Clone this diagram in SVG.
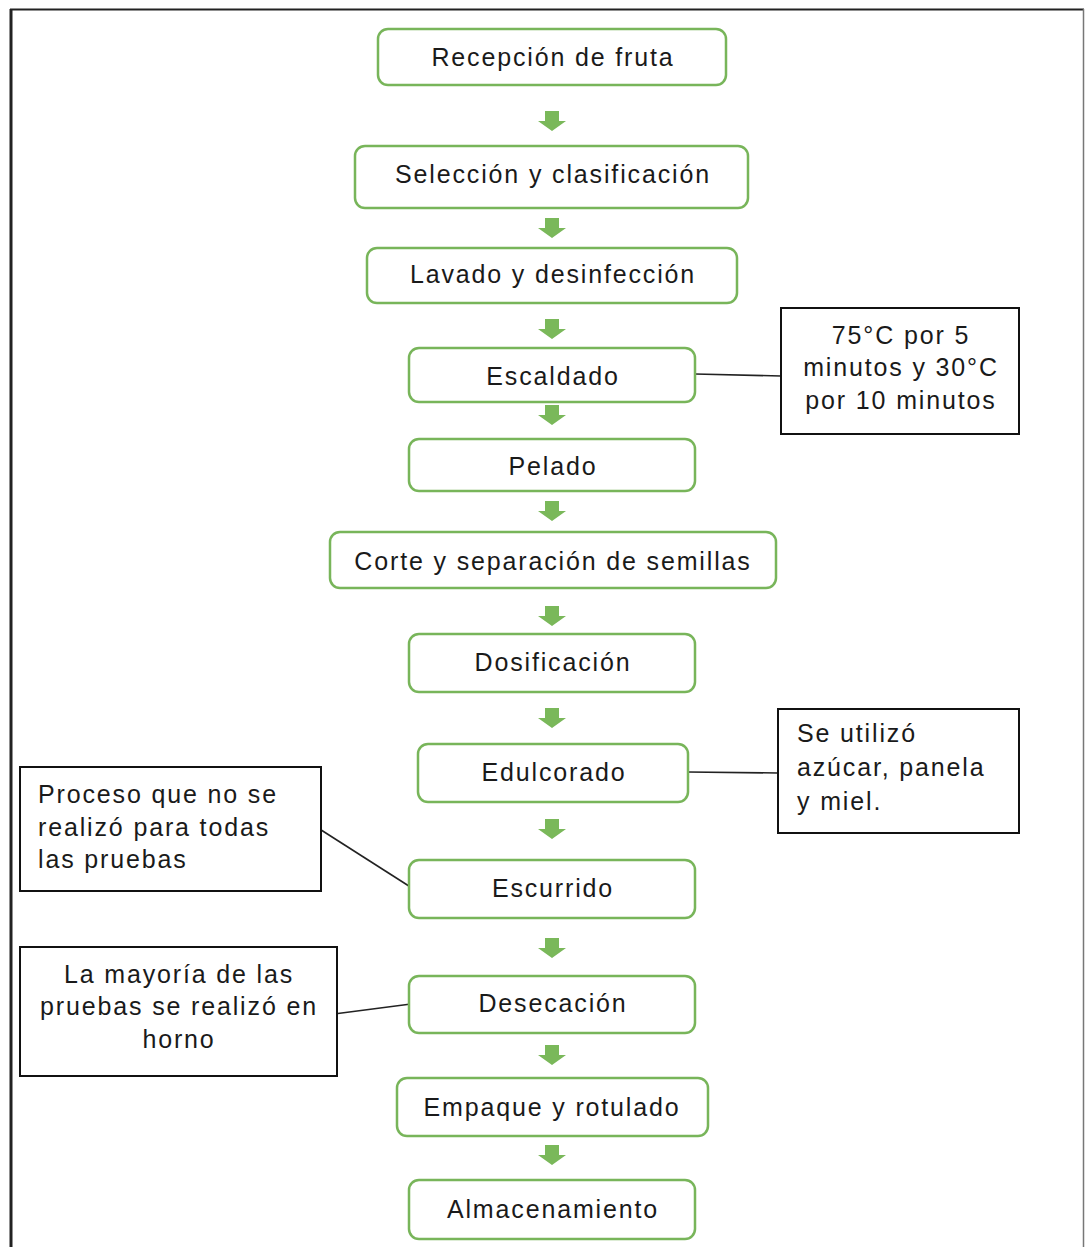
<svg xmlns="http://www.w3.org/2000/svg" width="1086" height="1247" viewBox="0 0 1086 1247">
<defs>
<style>
.step rect{fill:#fff;stroke:#78b55a;stroke-width:2.5}
.note rect{fill:#fff;stroke:#111;stroke-width:2}
text{font-family:"Liberation Sans",Arial,sans-serif;font-size:25px;letter-spacing:1.85px;fill:#1a1a1a}
.c{text-anchor:middle}
.conn line{stroke:#222;stroke-width:1.6}
.arr{fill:#7ab85a}
</style>
<path id="ar" d="M-7,0 H7 V10 H14 L0,20 L-14,10 H-7 Z"/>
</defs>
<rect width="1086" height="1247" fill="#fff"/>
<g id="frame">
<line x1="11" y1="1247" x2="11" y2="9" stroke="#222" stroke-width="3"/>
<line x1="10" y1="9.5" x2="1084" y2="9.5" stroke="#222" stroke-width="2"/>
<line x1="1083.5" y1="9" x2="1083.5" y2="1247" stroke="#777" stroke-width="1.5"/>
</g>
<g id="connectors" class="conn">
<line x1="695" y1="374" x2="781" y2="376"/>
<line x1="688" y1="772" x2="778" y2="773"/>
<line x1="318" y1="828" x2="412" y2="888"/>
<line x1="334" y1="1014" x2="411" y2="1004"/>
<g class="arr">
<use href="#ar" x="552" y="111"/>
<use href="#ar" x="552" y="218"/>
<use href="#ar" x="552" y="319"/>
<use href="#ar" x="552" y="405"/>
<use href="#ar" x="552" y="501"/>
<use href="#ar" x="552" y="606"/>
<use href="#ar" x="552" y="708"/>
<use href="#ar" x="552" y="819"/>
<use href="#ar" x="552" y="938"/>
<use href="#ar" x="552" y="1045"/>
<use href="#ar" x="552" y="1145"/>
</g>
</g>
<g id="n1" class="step"><rect x="378" y="29" width="348" height="56" rx="10"/><text class="c" x="553" y="66">Recepción de fruta</text></g>
<g id="n2" class="step"><rect x="355" y="146" width="393" height="62" rx="10"/><text class="c" x="553" y="183">Selección y clasificación</text></g>
<g id="n3" class="step"><rect x="367" y="248" width="370" height="55" rx="10"/><text class="c" x="553" y="283">Lavado y desinfección</text></g>
<g id="n4" class="step"><rect x="409" y="348" width="286" height="54" rx="10"/><text class="c" x="553" y="385">Escaldado</text></g>
<g id="n5" class="step"><rect x="409" y="439" width="286" height="52" rx="10"/><text class="c" x="553" y="475">Pelado</text></g>
<g id="n6" class="step"><rect x="330" y="532" width="446" height="56" rx="10"/><text class="c" x="553" y="570">Corte y separación de semillas</text></g>
<g id="n7" class="step"><rect x="409" y="634" width="286" height="58" rx="10"/><text class="c" x="553" y="671">Dosificación</text></g>
<g id="n8" class="step"><rect x="418" y="744" width="270" height="58" rx="10"/><text class="c" x="554" y="781">Edulcorado</text></g>
<g id="n9" class="step"><rect x="409" y="860" width="286" height="58" rx="10"/><text class="c" x="553" y="897">Escurrido</text></g>
<g id="n10" class="step"><rect x="409" y="976" width="286" height="57" rx="10"/><text class="c" x="553" y="1012">Desecación</text></g>
<g id="n11" class="step"><rect x="397" y="1078" width="311" height="58" rx="10"/><text class="c" x="552" y="1116">Empaque y rotulado</text></g>
<g id="n12" class="step"><rect x="409" y="1180" width="286" height="59" rx="10"/><text class="c" x="553" y="1218">Almacenamiento</text></g>
<g id="note1" class="note"><rect x="781" y="308" width="238" height="126"/>
<text class="c" x="901" y="344">75°C por 5</text><text class="c" x="901" y="376">minutos y 30°C</text><text class="c" x="901" y="409">por 10 minutos</text></g>
<g id="note2" class="note"><rect x="778" y="709" width="241" height="124"/>
<text x="797" y="742">Se utilizó</text><text x="797" y="776">azúcar, panela</text><text x="797" y="810">y miel.</text></g>
<g id="note3" class="note"><rect x="20" y="767" width="301" height="124"/>
<text x="38" y="803">Proceso que no se</text><text x="38" y="836">realizó para todas</text><text x="38" y="868">las pruebas</text></g>
<g id="note4" class="note"><rect x="20" y="947" width="317" height="129"/>
<text class="c" x="179" y="983">La mayoría de las</text><text class="c" x="179" y="1015">pruebas se realizó en</text><text class="c" x="179" y="1048">horno</text></g>
</svg>
